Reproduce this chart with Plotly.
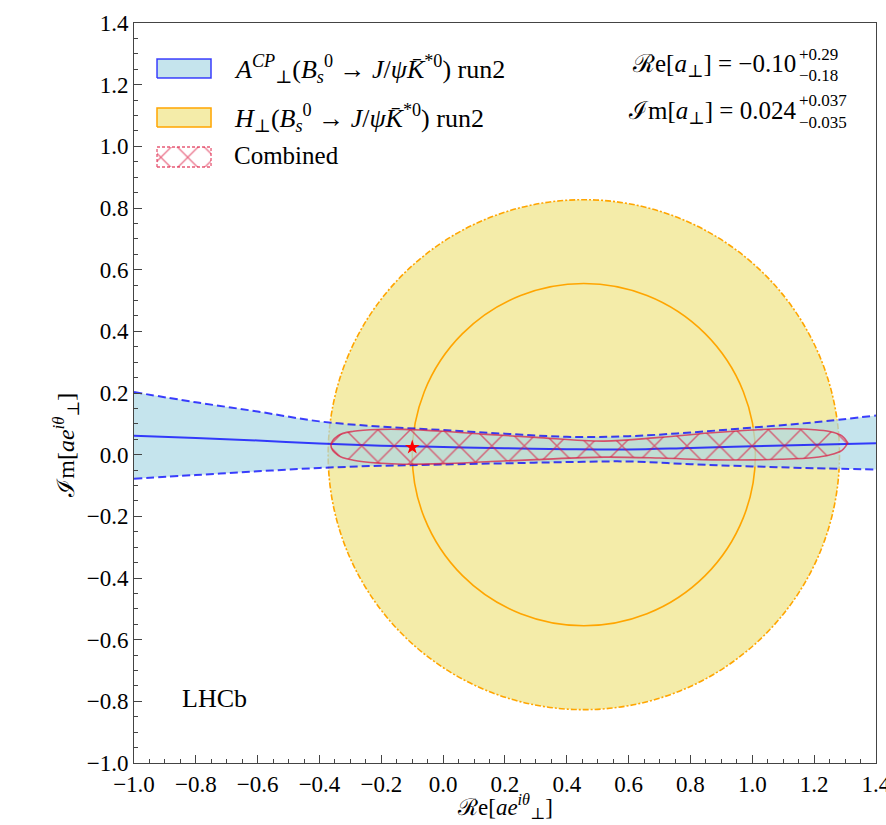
import plotly.graph_objects as go

# Blue band: A_perp^CP constraint (best-fit line and 1-sigma edges)
band_re = [-1.0, -0.8, -0.6, -0.4, -0.2, 0.0, 0.2, 0.4, 0.6, 0.8, 1.0, 1.2, 1.4]
band_upper = [0.203, 0.170, 0.140, 0.108, 0.091, 0.080, 0.068, 0.058, 0.060, 0.072, 0.088, 0.105, 0.127]
band_center = [0.061, 0.054, 0.046, 0.036, 0.029, 0.025, 0.021, 0.018, 0.017, 0.022, 0.027, 0.032, 0.037]
band_lower = [-0.078, -0.066, -0.054, -0.043, -0.036, -0.032, -0.028, -0.024, -0.022, -0.031, -0.038, -0.044, -0.048]

# Yellow annulus: H_perp constraint (circle centre and radii)
ring_center = (0.455, 0.0)
ring_inner_r = 0.555
ring_outer_r = 0.827

# Combined 1-sigma contour (upper and lower edges)
comb_re = [-0.363, -0.34, -0.29, -0.2, -0.13, 0.0, 0.14, 0.3, 0.52, 0.7, 0.87, 1.0, 1.09, 1.2, 1.25, 1.29, 1.309]
comb_upper = [0.030, 0.062, 0.076, 0.082, 0.082, 0.076, 0.066, 0.056, 0.044, 0.056, 0.071, 0.080, 0.084, 0.081, 0.075, 0.061, 0.038]
comb_lower = [0.030, -0.002, -0.018, -0.028, -0.031, -0.029, -0.023, -0.016, -0.008, -0.011, -0.017, -0.017, -0.015, -0.009, -0.001, 0.014, 0.038]

# Best-fit point
best_re = [-0.10]
best_im = [0.024]

x_ticks = [-1.0, -0.8, -0.6, -0.4, -0.2, 0.0, 0.2, 0.4, 0.6, 0.8, 1.0, 1.2, 1.4]
y_ticks = [-1.0, -0.8, -0.6, -0.4, -0.2, 0.0, 0.2, 0.4, 0.6, 0.8, 1.0, 1.2, 1.4]

SERIF = "Liberation Serif, DejaVu Serif, serif"
BLUE_LINE = "rgba(0,0,255,0.75)"
BLUE_FILL = "rgba(173,216,230,0.7)"
KHAKI_FILL = "rgba(240,230,140,0.75)"
ORANGE = "rgb(255,165,0)"
CRIMSON = "rgba(220,20,60,0.7)"

W, H = 886, 825
ML, MR, MT, MB = 134, 10, 23, 62

fig = go.Figure()

# band edges and fill
fig.add_trace(go.Scatter(x=band_re, y=band_lower, mode="lines", line=dict(color=BLUE_LINE, width=2, dash="8px,4px", shape="spline"),
                         hoverinfo="skip", showlegend=False))
fig.add_trace(go.Scatter(x=band_re, y=band_upper, mode="lines", fill="tonexty", fillcolor=BLUE_FILL,
                         line=dict(color=BLUE_LINE, width=2, dash="8px,4px", shape="spline"),
                         hoverinfo="skip", showlegend=False))
fig.add_trace(go.Scatter(x=band_re, y=band_center, mode="lines", line=dict(color=BLUE_LINE, width=2, shape="spline"),
                         hoverinfo="skip", showlegend=False))

# combined contour with cross hatching
cx = comb_re + comb_re[::-1]
cy = comb_upper + comb_lower[::-1]
fig.add_trace(go.Scatter(x=cx, y=cy, mode="lines", fill="toself", fillcolor="rgba(0,0,0,0)",
                         fillpattern=dict(shape="x", size=23, solidity=0.13, fgcolor="rgb(220,20,60)",
                                          fgopacity=0.6, bgcolor="rgba(0,0,0,0)"),
                         line=dict(color=CRIMSON, width=1.6, shape="spline"),
                         hoverinfo="skip", showlegend=False))

# best-fit star
fig.add_trace(go.Scatter(x=best_re, y=best_im, mode="markers",
                         marker=dict(symbol="star", size=11, color="red", line=dict(width=0)),
                         hoverinfo="skip", showlegend=False))

# legend glyphs on an overlay axis spanning the plot area
def box(x0, x1, y0, y1):
    return [x0, x1, x1, x0, x0], [y0, y0, y1, y1, y0]

lx0, lx1 = 0.031, 0.1038
bx, by = box(lx0, lx1, 0.9257, 0.9514)
fig.add_trace(go.Scatter(x=bx, y=by, xaxis="x2", yaxis="y2", mode="lines", fill="toself", fillcolor=BLUE_FILL,
                         line=dict(color="rgba(0,0,255,0.75)", width=1.5), hoverinfo="skip", showlegend=False))
bx, by = box(lx0, lx1, 0.8595, 0.8851)
fig.add_trace(go.Scatter(x=bx, y=by, xaxis="x2", yaxis="y2", mode="lines", fill="toself", fillcolor=KHAKI_FILL,
                         line=dict(color=ORANGE, width=1.5), hoverinfo="skip", showlegend=False))
bx, by = box(lx0, lx1, 0.8054, 0.8324)
fig.add_trace(go.Scatter(x=bx, y=by, xaxis="x2", yaxis="y2", mode="lines", fill="toself", fillcolor="rgba(0,0,0,0)",
                         fillpattern=dict(shape="x", size=19, solidity=0.13, fgcolor="rgb(220,20,60)",
                                          fgopacity=0.6, bgcolor="rgba(0,0,0,0)"),
                         line=dict(color=CRIMSON, width=1.3, dash="3px,2px"), hoverinfo="skip", showlegend=False))

shapes = [
    dict(type="circle", xref="x", yref="y", layer="below",
         x0=ring_center[0] - ring_outer_r, x1=ring_center[0] + ring_outer_r,
         y0=ring_center[1] - ring_outer_r, y1=ring_center[1] + ring_outer_r,
         fillcolor=KHAKI_FILL, line=dict(color=ORANGE, width=1.6, dash="6px,2px,2px,2px")),
    dict(type="circle", xref="x", yref="y", layer="below",
         x0=ring_center[0] - ring_inner_r, x1=ring_center[0] + ring_inner_r,
         y0=ring_center[1] - ring_inner_r, y1=ring_center[1] + ring_inner_r,
         fillcolor="rgba(0,0,0,0)", line=dict(color=ORANGE, width=1.6)),
]

def ann(text, x, y, size, xanchor="left", yanchor="middle", **kw):
    return dict(text=text, x=x, y=y, xref="paper", yref="paper", xanchor=xanchor, yanchor=yanchor,
                showarrow=False, font=dict(family=SERIF, size=size, color="black"), **kw)

annotations = [
    ann("<i>A</i><sup><i>CP</i></sup><sub>⊥</sub>(<i>B</i><sub><i>s</i></sub><sup>0</sup> → <i>J</i>/<i>ψ</i><i>K̄</i><sup>*0</sup>) run2",
        0.132, 0.9378, 26),
    ann("<i>H</i><sub>⊥</sub>(<i>B</i><sub><i>s</i></sub><sup>0</sup> → <i>J</i>/<i>ψ</i><i>K̄</i><sup>*0</sup>) run2",
        0.132, 0.8716, 26),
    ann("Combined", 0.132, 0.8203, 25),
    ann("ℛe[<i>a</i><sub>⊥</sub>] = −0.10", 0.8949, 0.9419, 25, xanchor="right"),
    ann("+0.29", 0.8936, 0.9568, 17),
    ann("−0.18", 0.8936, 0.9284, 17),
    ann("ℐm[<i>a</i><sub>⊥</sub>] = 0.024", 0.8949, 0.8797, 25, xanchor="right"),
    ann("+0.037", 0.8936, 0.8946, 17),
    ann("−0.035", 0.8936, 0.8662, 17),
    ann("LHCb", 0.062, 0.0866, 26),
    ann("ℛe[<i>ae</i><sup><i>iθ</i></sup><sub>⊥</sub>]", 0.5, -0.0825, 23, xanchor="center", yanchor="bottom"),
    ann("ℐm[<i>ae</i><sup><i>iθ</i></sup><sub>⊥</sub>]", -0.092, 0.4297, 24, xanchor="center", textangle=-90),
]

axis_common = dict(
    showline=True, linecolor="#444", linewidth=1, mirror=True,
    ticks="inside", ticklen=8, tickwidth=1, tickcolor="#444",
    minor=dict(ticks="inside", ticklen=4, dtick=0.05, tickcolor="#444", tickwidth=1),
    showgrid=False, zeroline=False, tickformat=".1f", ticklabeloverflow="allow", automargin=False,
    tickfont=dict(family=SERIF, size=23, color="black"),
)

fig.update_layout(
    width=W, height=H, margin=dict(l=ML, r=MR, t=MT, b=MB, autoexpand=False),
    paper_bgcolor="white", plot_bgcolor="white",
    xaxis=dict(range=[-1.0, 1.4001], tickvals=x_ticks, **axis_common),
    yaxis=dict(range=[-1.0, 1.4001], tickvals=y_ticks, **axis_common),
    xaxis2=dict(overlaying="x", range=[0, 1], visible=False, fixedrange=True),
    yaxis2=dict(overlaying="y", range=[0, 1], visible=False, fixedrange=True),
    shapes=shapes, annotations=annotations, showlegend=False,
)

fig.write_html("out.html")
